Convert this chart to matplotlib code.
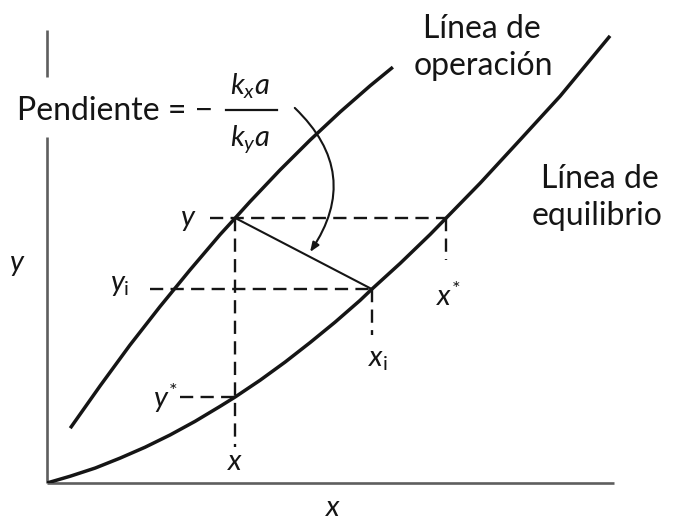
"""Diagrama de transferencia de masa: línea de operación, línea de equilibrio
y construcción de las composiciones de interfase (x_i, y_i)."""

import matplotlib
matplotlib.use("Agg")
import matplotlib.pyplot as plt

# Curvas (x, y en % de la escala de los ejes)
OP_X = [4.1, 9.4, 14.6, 19.9, 25.2, 30.5, 33.2, 35.8, 41.1, 46.4, 51.7, 57.0, 61.0]
OP_Y = [12.1, 21.5, 30.4, 38.9, 47.0, 54.8, 58.5, 62.1, 69.1, 75.7, 81.9, 87.7, 91.8]

EQ_X = [0.0, 4.1, 8.5, 12.9, 17.3, 21.7, 26.1, 30.5, 33.2, 37.6, 42.0, 46.4,
        50.8, 55.2, 57.3, 62.3, 67.6, 70.4, 76.4, 83.4, 90.5, 99.3]
EQ_Y = [0.0, 1.5, 3.3, 5.5, 7.9, 10.6, 13.6, 16.9, 19.0, 22.7, 26.7, 31.0,
        35.5, 40.3, 42.8, 48.5, 54.9, 58.5, 66.2, 75.7, 85.4, 98.7]

# Composiciones del punto de operación, de la interfase y de equilibrio
X_BULK, Y_BULK = 33.2, 58.5
X_INT, Y_INT = 57.3, 42.8
X_STAR, Y_STAR = 70.4, 19.0

INK = "#151515"
AXIS_GRAY = "#5e5e5e"

plt.rcParams["font.family"] = ["Lato", "DejaVu Sans"]
plt.rcParams["mathtext.fontset"] = "custom"
plt.rcParams["mathtext.it"] = "Lato:italic"
plt.rcParams["mathtext.rm"] = "Lato"

fig = plt.figure(figsize=(6.73, 5.22), dpi=100)
ax = fig.add_axes([47 / 673, 39 / 522, 567 / 673, 453 / 522])
ax.set_xlim(0, 100)
ax.set_ylim(0, 100)
ax.axis("off")

# ejes (el vertical se interrumpe detrás del texto de la pendiente)
axis_kw = dict(color=AXIS_GRAY, lw=1.9, solid_capstyle="butt", clip_on=False)
ax.plot([0, 100], [0, 0], **axis_kw)
ax.plot([0, 0], [0, 76.4], **axis_kw)
ax.plot([0, 0], [89.6, 100], **axis_kw)

# líneas de operación y de equilibrio
curve_kw = dict(color=INK, lw=2.5, solid_capstyle="butt", solid_joinstyle="round")
ax.plot(OP_X, OP_Y, **curve_kw)
ax.plot(EQ_X, EQ_Y, **curve_kw)

# recta de pendiente -kxa/kya
ax.plot([X_BULK, X_INT], [Y_BULK, Y_INT], color=INK, lw=1.5)

# líneas discontinuas
dash = dict(color=INK, lw=1.7, linestyle=(0, (5.6, 3.1)))
ax.plot([28.7, X_STAR], [Y_BULK, Y_BULK], **dash)
ax.plot([X_BULK, X_BULK], [Y_BULK, 7.9], **dash)
ax.plot([18.2, X_INT], [Y_INT, Y_INT], **dash)
ax.plot([X_INT, X_INT], [Y_INT, 32.7], **dash)
ax.plot([X_STAR, X_STAR], [Y_BULK, 49.2], **dash)
ax.plot([23.5, X_BULK], [Y_STAR, Y_STAR], **dash)

# flecha curva desde la fracción hasta la recta
ax.annotate("", xy=(46.4, 51.0), xytext=(43.7, 82.8),
            arrowprops=dict(arrowstyle="-|>,head_length=0.55,head_width=0.22",
                            connectionstyle="arc3,rad=-0.42",
                            color=INK, lw=1.5, shrinkA=0, shrinkB=0))

# texto de la pendiente
txt = dict(color=INK, fontsize=23)
ax.text(-5.3, 80.1, "Pendiente = −", ha="left", va="baseline", **txt)
ax.text(35.8, 85.7, r"$k_x a$", ha="center", va="baseline", color=INK, fontsize=21)
ax.text(35.8, 74.6, r"$k_y a$", ha="center", va="baseline", color=INK, fontsize=21)
ax.plot([31.6, 40.6], [82.3, 82.3], color=INK, lw=1.6, clip_on=False)

# nombres de las curvas
ax.text(76.7, 98.2, "Línea de", ha="center", va="baseline", **txt)
ax.text(76.9, 90.1, "operación", ha="center", va="baseline", **txt)
ax.text(97.5, 65.1, "Línea de", ha="center", va="baseline", **txt)
ax.text(97.0, 57.0, "equilibrio", ha="center", va="baseline", **txt)

# etiquetas de composición
lab = dict(color=INK, fontsize=21, ha="center", va="center")
ax.text(-5.3, 48.1, r"$y$", **lab)
ax.text(50.4, -5.5, r"$x$", **lab)
ax.text(24.9, 58.1, r"$y$", **lab)
ax.text(12.9, 43.7, r"$y_\mathrm{i}$", **lab)
ax.text(20.8, 18.8, r"$y^{*}$", **lab)
ax.text(33.2, 4.6, r"$x$", **lab)
ax.text(58.4, 27.2, r"$x_\mathrm{i}$", **lab)
ax.text(70.9, 41.3, r"$x^{*}$", **lab)

fig.savefig("out.png", dpi=100, facecolor="white")
